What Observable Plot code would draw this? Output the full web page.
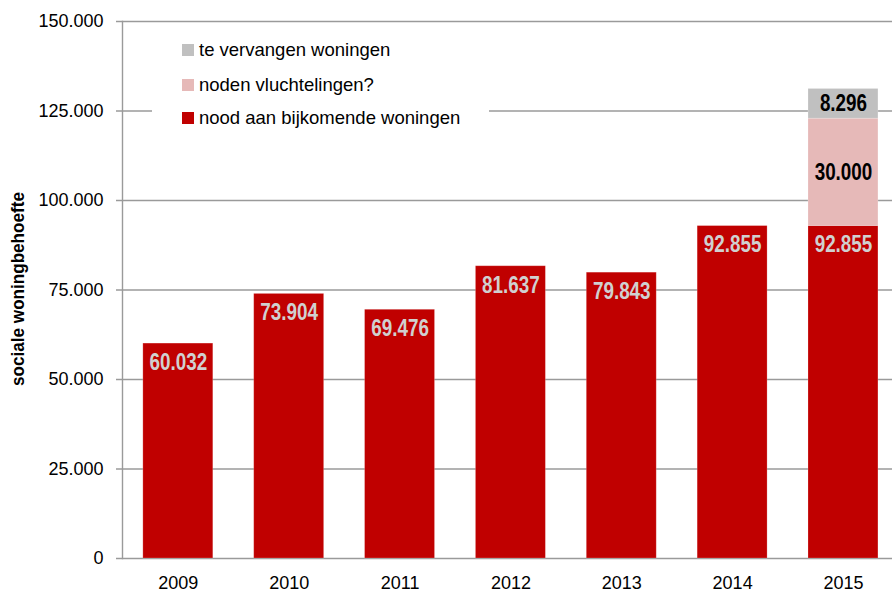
<!DOCTYPE html>
<html>
<head>
<meta charset="utf-8">
<script src="https://cdn.jsdelivr.net/npm/d3@7"></script>
<script src="https://cdn.jsdelivr.net/npm/@observablehq/plot@0.6"></script>
<style>
  html, body { margin: 0; padding: 0; background: #fff; overflow: hidden; }
  #wrap { position: relative; width: 892px; height: 595px; font-family: "Liberation Sans", Arial, sans-serif; }
  #legend { position: absolute; left: 152px; top: 25px; width: 337px; height: 108px; background: #fff; }
  .item { position: absolute; left: 30px; height: 20px; display: flex; align-items: center; font-size: 18.5px; color: #000; white-space: nowrap; }
  .sw { width: 12px; height: 12px; margin-right: 5px; }
  #ylabel { position: absolute; left: 18px; top: 289px; transform: translate(-50%, -50%) rotate(-90deg) scaleX(0.95); font-weight: bold; font-size: 18px; white-space: nowrap; }
</style>
</head>
<body>
<div id="wrap"></div>
<script>
// ---- data ----
const years = ["2009", "2010", "2011", "2012", "2013", "2014", "2015"];
const bijkomend = [60032, 73904, 69476, 81637, 79843, 92855, 92855];
const vluchtelingen = [0, 0, 0, 0, 0, 0, 30000];
const vervangen = [0, 0, 0, 0, 0, 0, 8296];
const seriesNames = ["nood aan bijkomende woningen", "noden vluchtelingen?", "te vervangen woningen"];
const seriesColors = ["#c00000", "#e6b9b8", "#c0c0c0"];
const yTicks = [0, 25000, 50000, 75000, 100000, 125000, 150000];

const nl = d3.formatLocale({decimal: ",", thousands: ".", grouping: [3], currency: ["", ""]});
const fmt = nl.format(",d");

// build stacked rows
const seriesValues = [bijkomend, vluchtelingen, vervangen];
const rows = [];
years.forEach((yr, i) => {
  let base = 0;
  seriesValues.forEach((vals, s) => {
    const v = vals[i];
    if (v > 0) {
      rows.push({year: yr, series: seriesNames[s], s, value: v, y1: base, y2: base + v});
      base += v;
    }
  });
});
const redRows = rows.filter(d => d.s === 0);
const otherRows = rows.filter(d => d.s !== 0);

const chart = Plot.plot({
  width: 892,
  height: 595,
  marginTop: 21,
  marginBottom: 37,
  marginLeft: 122,
  marginRight: 0,
  style: {fontFamily: "'Liberation Sans', Arial, sans-serif", fontSize: "18px", color: "#000", background: "#fff", overflow: "visible"},
  x: {type: "band", domain: years, range: [122.4, 898.4], paddingInner: 0.369, paddingOuter: 0.1845, round: false},
  y: {domain: [0, 150000], range: [558, 21]},
  color: {domain: seriesNames, range: seriesColors},
  marks: [
    // gridlines (with tick stubs to the left)
    Plot.ruleY(yTicks, {stroke: "#9a9a9a", strokeWidth: 1.4, insetLeft: -6}),
    Plot.axisY({ticks: yTicks, tickFormat: d => fmt(d), tickSize: 0, tickPadding: 19, fontSize: 18, label: null}),
    Plot.axisX({tickSize: 0, tickPadding: 18, fontSize: 18, label: null}),
    Plot.barY(rows, {x: "year", y1: "y1", y2: "y2", fill: "series", stroke: "#fff", strokeOpacity: 0.25, strokeWidth: 0.8}),
    Plot.frame({anchor: "left", stroke: "#9a9a9a", strokeWidth: 1.4, strokeOpacity: 1}),
    Plot.text(redRows, {x: "year", y: "y2", dy: 19, text: d => fmt(d.value), fill: "#d0d0d0", fontWeight: "bold", fontSize: 23, className: "vlabel"}),
    Plot.text(otherRows, {x: "year", y: d => (d.y1 + d.y2) / 2, text: d => fmt(d.value), fill: "#000", fontWeight: "bold", fontSize: 23, className: "vlabel"})
  ]
});

// condense value labels horizontally (Arial Narrow look)
chart.querySelectorAll("g.vlabel text").forEach(t => {
  const tr = t.getAttribute("transform") || "";
  t.setAttribute("transform", tr + " scale(0.82,1)");
});

const wrap = document.getElementById("wrap");
wrap.appendChild(chart);

// legend
const legend = document.createElement("div");
legend.id = "legend";
const legendOrder = [2, 1, 0];
const legendTops = [24, 59, 92];
legendOrder.forEach((s, k) => {
  const it = document.createElement("div");
  it.className = "item";
  it.style.top = (legendTops[k] - 9) + "px";
  const sw = document.createElement("span");
  sw.className = "sw";
  sw.style.background = seriesColors[s];
  const t = document.createElement("span");
  t.textContent = seriesNames[s];
  it.appendChild(sw);
  it.appendChild(t);
  legend.appendChild(it);
});
wrap.appendChild(legend);

const yl = document.createElement("div");
yl.id = "ylabel";
yl.textContent = "sociale woningbehoefte";
wrap.appendChild(yl);
</script>
</body>
</html>
